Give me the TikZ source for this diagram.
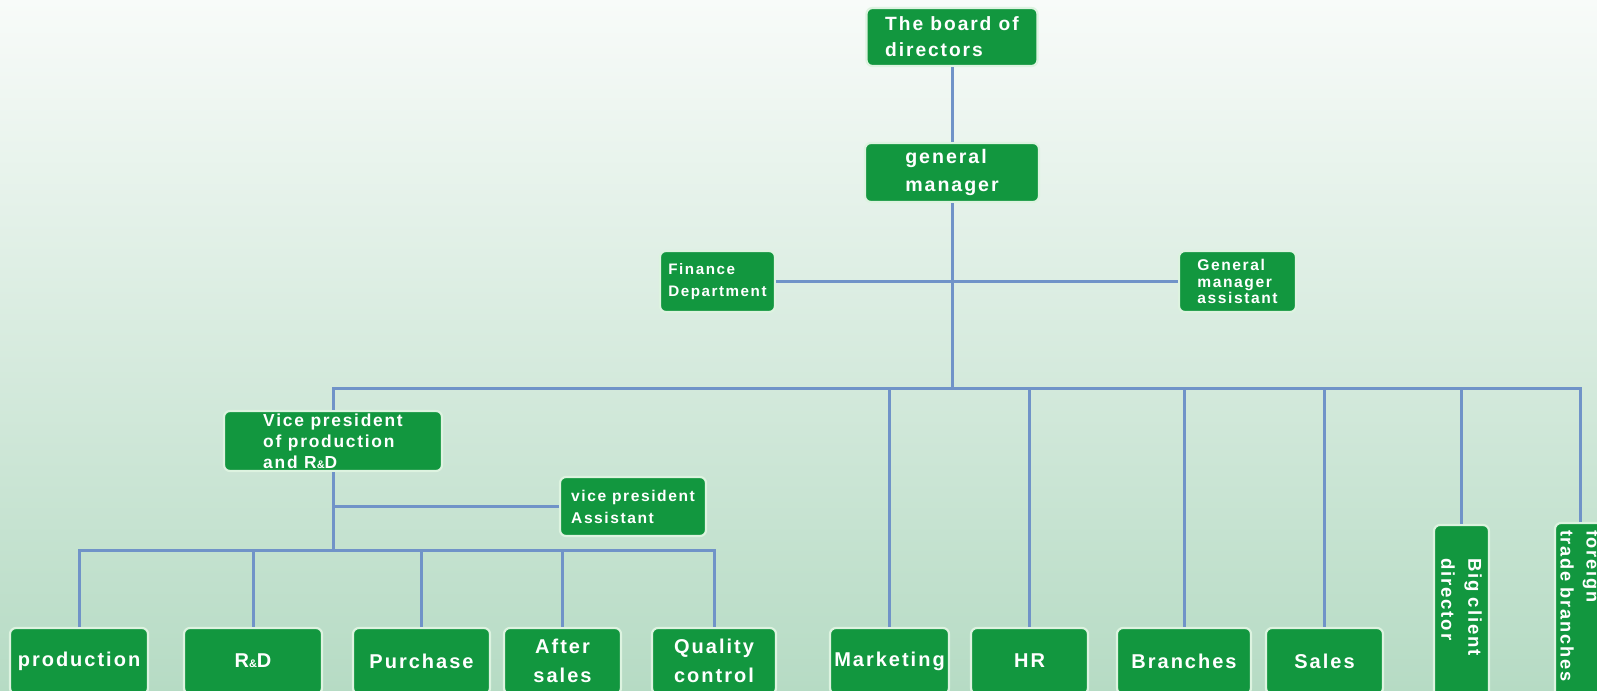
\documentclass[tikz,border=0pt]{standalone}
\usepackage{fontspec}
\newfontfamily\orgfont[LetterSpace=10]{Liberation Sans}
\usepackage{tikz}
\usetikzlibrary{shapes,backgrounds}
\definecolor{boxgreen}{HTML}{12973F}
\definecolor{boxrim}{HTML}{DDF3E0}
\definecolor{linkblue}{HTML}{7093C8}
\definecolor{bgtop}{HTML}{F8FBF9}
\definecolor{bgmid}{HTML}{DCEEE2}
\definecolor{bgbot}{HTML}{B6DBC4}
\newcommand\smallamp{{\fontsize{5.5}{6}\selectfont\&}}
\tikzstyle{unit} = [rectangle, rounded corners=3pt, draw=boxrim, line width=1.1pt,
                    fill=boxgreen, text=white, inner sep=0pt, align=left]
\tikzstyle{dept} = [unit, align=center, minimum height=33pt,
                    font=\orgfont\bfseries\fontsize{10}{14.3}\selectfont]
\tikzstyle{link} = [draw=linkblue, line width=1.5pt]

\begin{document}
\begin{tikzpicture}[x=0.5pt, y=-0.5pt,
upright/.style={unit, rotate=-90, font=\orgfont\bfseries\fontsize{9.3}{13.5}\selectfont}]
\useasboundingbox (0,0) rectangle (1597,691);
\clip (0,0) rectangle (1597,691);
%Background
\shade[top color=bgtop, middle color=bgmid, bottom color=bgbot] (0,0) rectangle (1597,691);

%Top
\node[unit, minimum width=85.5pt, minimum height=29pt, font=\orgfont\bfseries\fontsize{9.6}{13}\selectfont] at (952,37) (board){The board of\\directors};
\node[unit, minimum width=87pt, minimum height=29.5pt, font=\orgfont\bfseries\fontsize{9.8}{14.3}\selectfont] at (952,172.5) (gm){general\\manager};
\node[unit, minimum width=57.5pt, minimum height=30.5pt, font=\orgfont\bfseries\fontsize{7.6}{11.2}\selectfont] at (717.5,281.5) (fin){Finance\\Department};
\node[unit, minimum width=58.5pt, minimum height=30.5pt, font=\orgfont\bfseries\fontsize{7.8}{8.3}\selectfont] at (1237.5,281.5) (gma){General\\manager\\assistant};

%Vice president
\node[unit, minimum width=109pt, minimum height=30pt, font=\orgfont\bfseries\fontsize{8.7}{10.5}\selectfont] at (333,441) (vp){Vice president\\of production\\and R\smallamp D};
\node[unit, minimum width=73pt, minimum height=29.5pt, font=\orgfont\bfseries\fontsize{7.8}{11}\selectfont] at (633,506.5) (vpa){vice president\\Assistant};

%Departments
\node[dept, minimum width=69pt] at (79,661) (prod){production};
\node[dept, minimum width=69pt] at (253,661) (rd){R\smallamp D};
\node[dept, minimum width=68.5pt] at (421.5,661) (pur){Purchase};
\node[dept, minimum width=58.5pt] at (562.5,661) (aft){After\\sales};
\node[dept, minimum width=62pt] at (714,661) (qc){Quality\\control};
\node[dept, minimum width=59.5pt] at (889.5,661) (mkt){Marketing};
\node[dept, minimum width=58.5pt] at (1029.5,661) (hr){HR};
\node[dept, minimum width=67pt] at (1184,661) (br){Branches};
\node[dept, minimum width=58.5pt] at (1324.5,661) (sal){Sales};
\node[upright, minimum width=87.5pt, minimum height=27.5pt, text width=54.5pt] at (1461.5,612.5) (big){Big client\\director};
\node[upright, minimum width=89pt, minimum height=25pt, text width=82pt, font=\orgfont\bfseries\fontsize{9.1}{13}\selectfont] at (1580,612) (ftb){foreign\\trade branches};

%Links
\coordinate (bus) at (333,388);
\coordinate (sub) at (333,550);
\draw[link] (board) -- (gm);
\draw[link] (gm) -- (gm |- bus);
\draw[link] (fin) -- (gma);
\draw[link] (vp.north) |- (ftb.west |- bus) -- (ftb.west);
\foreach \n in {mkt,hr,br,sal} \draw[link] (\n.north |- bus) -- (\n.north);
\draw[link] (big.west |- bus) -- (big.west);
\draw[link] (vp.south) -- (sub);
\draw[link] (vp.south |- vpa.west) -- (vpa.west);
\draw[link] (prod.north) |- (qc.north |- sub) -- (qc.north);
\foreach \n in {rd,pur,aft} \draw[link] (\n.north |- sub) -- (\n.north);

\end{tikzpicture}
\end{document}
